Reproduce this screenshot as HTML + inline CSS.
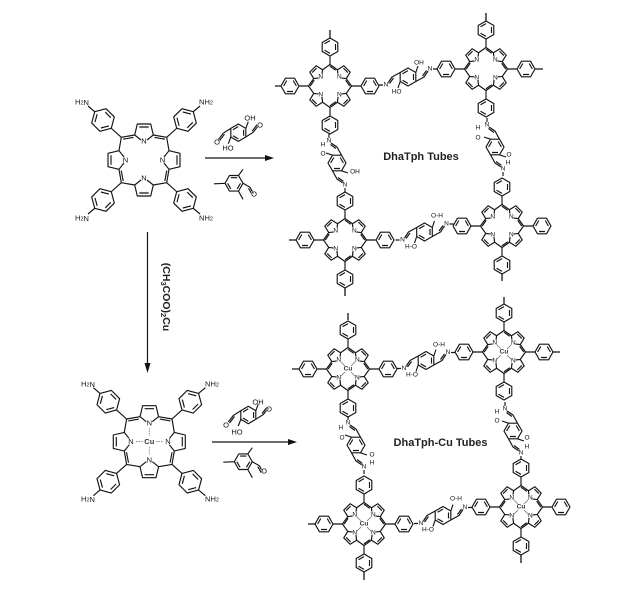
<!DOCTYPE html>
<html><head><meta charset="utf-8"><style>
html,body{margin:0;padding:0;background:#fff;width:619px;height:592px;overflow:hidden}
svg{display:block;filter:blur(.3px)}
text{font-family:"Liberation Sans",sans-serif;text-anchor:middle;dominant-baseline:central;fill:#111;stroke:#fff;stroke-width:.8px;paint-order:stroke}
.n{font-size:6.5px}.m{font-size:7.5px}.cu{font-size:6.5px;font-weight:bold;fill:#333}.cm{font-size:7.5px;font-weight:bold;fill:#333}
.b{font-weight:bold;stroke:none;fill:#222}
</style></head><body>
<svg width="619" height="592" viewBox="0 0 619 592" xmlns="http://www.w3.org/2000/svg">
<defs>
<path id="core" fill="none" stroke-linejoin="round" d="M-3,-20L-9.3,-25L-6.7,-36H6.7L9.3,-25L3,-20M-4.7,-33H4.7M-9.3,-25L-22.7,-22.7M-10.5,-22.6L-21,-20.8M9.3,-25L22.7,-22.7M10.5,-22.6L21,-20.8M3,20L9.3,25L6.7,36H-6.7L-9.3,25L-3,20M-4.7,33H4.7M-9.3,25L-22.7,22.7M9.3,25L22.7,22.7M-20,-3L-25,-9.3L-36,-6.7V6.7L-25,9.3L-20,3M-33,-4.7V4.7M-22.7,-22.7L-25,-9.3M-25,9.3L-22.7,22.7M-22.8,10.5L-20.8,21M20,-3L25,-9.3L36,-6.7V6.7L25,9.3L20,3M33,-4.7V4.7M22.7,-22.7L25,-9.3M25,9.3L22.7,22.7M22.8,10.5L20.8,21"/>
<path id="ph" fill="none" stroke-linejoin="round" d="M0,-9L7.8,-4.5V4.5L0,9L-7.8,4.5V-4.5ZM5.5,-3V3M0,6.4L-5.5,3.2M-5.5,-3.2L0,-6.4"/>
<g id="t">
<use href="#core" transform="rotate(45) scale(.67)" stroke-width="1.75"/>
<use href="#ph" transform="translate(0,-39)"/>
<use href="#ph" transform="translate(0,39)"/>
<use href="#ph" transform="translate(-40,0) rotate(90)"/>
<use href="#ph" transform="translate(40,0) rotate(90)"/>
<path d="M0,-21V-30M0,21V30M-21,0H-31M21,0H31"/>
</g>
<path id="culines" fill="none" stroke="#777" stroke-width=".8" d="M-8,-8L-3,-3M8,-8L3,-3M-8,8L-3,3M8,8L3,3"/>
<path id="lk" fill="none" stroke-linejoin="round" d="M0,-9L7.8,-4.5V4.5L0,9L-7.8,4.5V-4.5ZM5.5,-3V3M0,6.4L-5.5,3.2M-5.5,-3.2L0,-6.4M-7.8,-4.5L-16,0L-20,6M-14.5,1L-18.5,6.5M7.8,4.5L16,0L20,-6M14.5,-1L18.5,-6.5M-25,8H-29M25,-8H29M-7.8,4.5L-10,11M7.8,-4.5L10,-11"/>
<g id="m">
<use href="#core" stroke-width="1.15"/>
<use href="#ph" transform="translate(-41,-40) rotate(-45) scale(1.3)" stroke-width=".9"/>
<use href="#ph" transform="translate(41,-40) rotate(45) scale(1.3)" stroke-width=".9"/>
<use href="#ph" transform="translate(-41,40) rotate(45) scale(1.3)" stroke-width=".9"/>
<use href="#ph" transform="translate(41,40) rotate(-45) scale(1.3)" stroke-width=".9"/>
<path d="M-22.7,-22.7L-32.5,-31.5M22.7,-22.7L32.5,-31.5M-22.7,22.7L-32.5,31.5M22.7,22.7L32.5,31.5M-49.5,-48.5L-56,-54M49.5,-48.5L56,-54M-49.5,48.5L-56,54M49.5,48.5L56,54"/>
</g>
<path id="r1" fill="none" stroke-linejoin="round" d="M0,-8.7L7.5,-4.3V4.3L0,8.7L-7.5,4.3V-4.3ZM5.3,-3V3M0,6.2L-5.3,3M-5.3,-3L0,-6.2M-7.5,-4.3L-15,.5L-20,7M-13.8,1.5L-18.8,8M7.5,4.3L15,-.5L20,-7M13.8,-1.5L18.8,-8M7.5,-4.3L10,-11M-7.5,4.3L-10,11"/>
<path id="r2" fill="none" stroke-linejoin="round" d="M-9,0L-4.5,-7.8H4.5L9,0L4.5,7.8H-4.5ZM-3.2,-5.6H3.2M6.5,0L3.2,5.6M-6.5,0L-3.2,5.6M4.5,-7.8L9,-14M4.5,7.8L9,16M-9,0L-20,.5M9,0L16,4L19.5,10M14.5,5L18,11"/>
</defs>

<g stroke="#141414" stroke-width="1.15" fill="none">
<use href="#m" transform="translate(144,160)"/>
<use href="#m" transform="translate(149.3,441.7)"/>
<path stroke="#777" stroke-width=".8" stroke-dasharray="1.5 1" d="M149.3,428V436M149.3,447V455M136,441.7H143M156,441.7H163"/>
<use href="#r1" transform="translate(238.3,132.7)"/>
<use href="#r2" transform="translate(234,183.3)"/>
<use href="#r1" transform="translate(248.3,415)"/>
<use href="#r2" transform="translate(243.3,461.7)"/>
<use href="#t" transform="translate(330,86)"/>
<use href="#t" transform="translate(486,69)"/>
<use href="#t" transform="translate(345,240)"/>
<use href="#t" transform="translate(502,226)"/>
<use href="#t" transform="translate(348,369)"/>
<use href="#t" transform="translate(504,352)"/>
<use href="#t" transform="translate(364,524)"/>
<use href="#t" transform="translate(521,507)"/>
<use href="#culines" transform="translate(348,369)"/>
<use href="#culines" transform="translate(504,352)"/>
<use href="#culines" transform="translate(364,524)"/>
<use href="#culines" transform="translate(521,507)"/>
<use href="#lk" transform="translate(408,77)"/>
<use href="#lk" transform="translate(424.5,232)"/>
<use href="#lk" transform="translate(426,360.5)"/>
<use href="#lk" transform="translate(443,515.5)"/>
<use href="#lk" transform="translate(337,163) rotate(90)"/>
<use href="#lk" transform="translate(495,147) rotate(90)"/>
<use href="#lk" transform="translate(356,445) rotate(90)"/>
<use href="#lk" transform="translate(513,431) rotate(90)"/>
<path stroke-width="1.3" d="M330,38V30M281,86H275M486,21V13M535,69H543M296,240H289M345,288V296M502,274V281M348,320V313M299,369H292M504,304V297M553,352H560M316,524H308M364,572V580M521,555V563"/>
<path stroke-width="1.2" d="M205,158H266M147.5,232V365M212,442H290"/>
</g>
<path fill="#111" d="M265,155L274,158L265,161ZM144.500,363L147.500,373L150.500,363ZM288,439L297,442L288,445Z"/>

<text class="m" x="144" y="141">N</text><text class="m" x="144" y="178">N</text><text class="m" x="125.500" y="160">N</text><text class="m" x="162.500" y="160">N</text>
<text class="m" x="82" y="102">H<tspan dy="1.5" font-size="5.5">2</tspan><tspan dy="-1.5">N</tspan></text>
<text class="m" x="206" y="102">NH<tspan dy="1.5" font-size="5.5">2</tspan></text>
<text class="m" x="82" y="218">H<tspan dy="1.5" font-size="5.5">2</tspan><tspan dy="-1.5">N</tspan></text>
<text class="m" x="206" y="218">NH<tspan dy="1.5" font-size="5.5">2</tspan></text>
<text class="m" x="149.300" y="423">N</text><text class="m" x="149.300" y="460">N</text><text class="m" x="131" y="441.700">N</text><text class="m" x="168" y="441.700">N</text>
<text class="cm" x="149.300" y="441.700">Cu</text>
<text class="m" x="88" y="384">H<tspan dy="1.5" font-size="5.5">2</tspan><tspan dy="-1.5">N</tspan></text>
<text class="m" x="212" y="384">NH<tspan dy="1.5" font-size="5.5">2</tspan></text>
<text class="m" x="88" y="499">H<tspan dy="1.5" font-size="5.5">2</tspan><tspan dy="-1.5">N</tspan></text>
<text class="m" x="212" y="499">NH<tspan dy="1.5" font-size="5.5">2</tspan></text>

<text class="m" x="250" y="118">OH</text><text class="m" x="228" y="148">HO</text><text class="m" x="217" y="142">O</text><text class="m" x="260" y="125">O</text><text class="m" x="254" y="194">O</text>
<text class="m" x="258" y="402">OH</text><text class="m" x="237" y="432">HO</text><text class="m" x="226" y="425">O</text><text class="m" x="269" y="409">O</text><text class="m" x="264" y="471">O</text>

<text class="n" x="320.700" y="77">N</text><text class="n" x="339.300" y="77">N</text><text class="n" x="320.700" y="95">N</text><text class="n" x="339.300" y="95">N</text>
<text class="n" x="476.700" y="60">N</text><text class="n" x="495.300" y="60">N</text><text class="n" x="476.700" y="78">N</text><text class="n" x="495.300" y="78">N</text>
<text class="n" x="335.700" y="231">N</text><text class="n" x="354.300" y="231">N</text><text class="n" x="335.700" y="249">N</text><text class="n" x="354.300" y="249">N</text>
<text class="n" x="492.700" y="217">N</text><text class="n" x="511.300" y="217">N</text><text class="n" x="492.700" y="235">N</text><text class="n" x="511.300" y="235">N</text>
<text class="n" x="338.700" y="360">N</text><text class="n" x="357.300" y="360">N</text><text class="n" x="338.700" y="378">N</text><text class="n" x="357.300" y="378">N</text><text class="cu" x="348" y="369">Cu</text>
<text class="n" x="494.700" y="343">N</text><text class="n" x="513.300" y="343">N</text><text class="n" x="494.700" y="361">N</text><text class="n" x="513.300" y="361">N</text><text class="cu" x="504" y="352">Cu</text>
<text class="n" x="354.700" y="515">N</text><text class="n" x="373.300" y="515">N</text><text class="n" x="354.700" y="533">N</text><text class="n" x="373.300" y="533">N</text><text class="cu" x="364" y="524">Cu</text>
<text class="n" x="511.700" y="498">N</text><text class="n" x="530.300" y="498">N</text><text class="n" x="511.700" y="516">N</text><text class="n" x="530.300" y="516">N</text><text class="cu" x="521" y="507">Cu</text>

<text class="n" x="386" y="85">N</text><text class="n" x="430" y="69">N</text><text class="n" x="396.500" y="92">HO</text><text class="n" x="419" y="63">OH</text>
<text class="n" x="402.500" y="240">N</text><text class="n" x="446.500" y="224">N</text><text class="n" x="437" y="216">O-H</text><text class="n" x="411" y="247">H-O</text>
<text class="n" x="404" y="368.500">N</text><text class="n" x="448" y="352.500">N</text><text class="n" x="439" y="345">O-H</text><text class="n" x="412" y="375">H-O</text>
<text class="n" x="421" y="523.500">N</text><text class="n" x="465" y="507.500">N</text><text class="n" x="456" y="499">O-H</text><text class="n" x="428" y="530">H-O</text>
<text class="n" x="329" y="141">N</text><text class="n" x="345" y="185">N</text><text class="n" x="323" y="145">H</text><text class="n" x="323" y="154">O</text><text class="n" x="355" y="172">OH</text>
<text class="n" x="487" y="125">N</text><text class="n" x="503" y="169">N</text><text class="n" x="478" y="128">H</text><text class="n" x="478" y="138">O</text><text class="n" x="509" y="155">O</text><text class="n" x="508" y="163">H</text>
<text class="n" x="348" y="423">N</text><text class="n" x="364" y="467">N</text><text class="n" x="341" y="428">H</text><text class="n" x="342" y="438">O</text><text class="n" x="372" y="455">O</text><text class="n" x="372" y="463">H</text>
<text class="n" x="505" y="409">N</text><text class="n" x="521" y="453">N</text><text class="n" x="497" y="412">H</text><text class="n" x="497" y="421">O</text><text class="n" x="527" y="438">O</text><text class="n" x="527" y="447">H</text>

<text class="b" x="421" y="157" font-size="11">DhaTph Tubes</text>
<text class="b" x="440.500" y="443" font-size="11">DhaTph-Cu Tubes</text>
<text class="b" font-size="10.500" transform="translate(166,297) rotate(90)">(CH<tspan dy="2" font-size="7.5">3</tspan><tspan dy="-2">COO)</tspan><tspan dy="2" font-size="7.5">2</tspan><tspan dy="-2">Cu</tspan></text>
</svg>
</body></html>
